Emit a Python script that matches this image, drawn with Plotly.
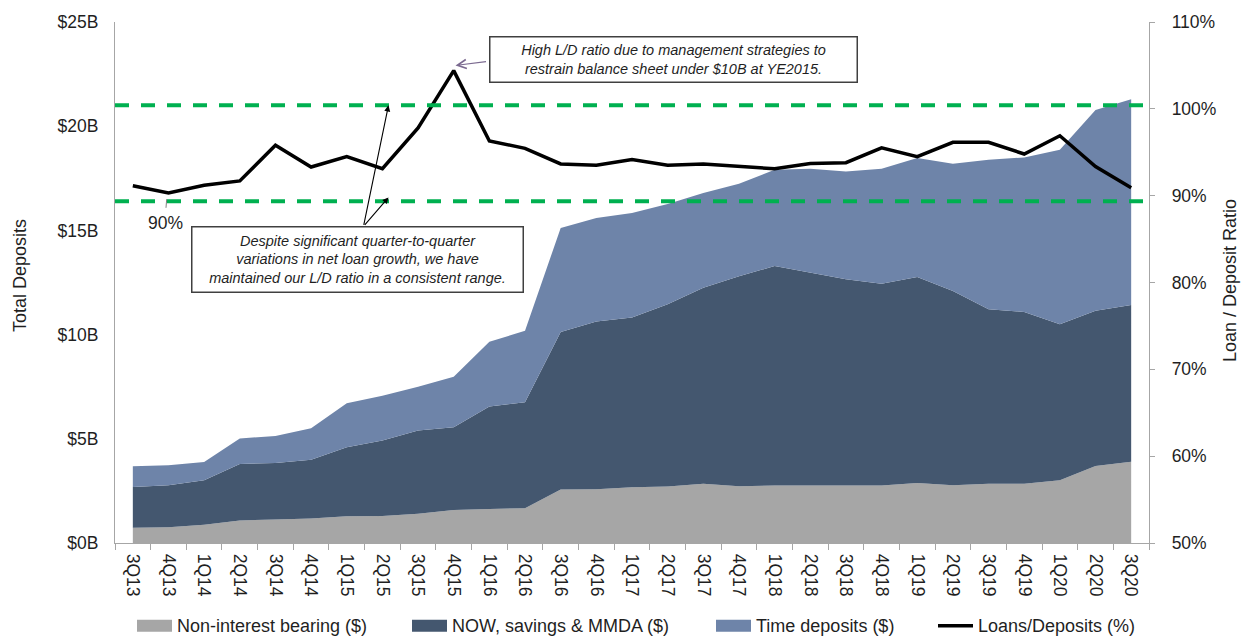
import plotly.graph_objects as go

# Quarterly deposit mix ($B) and loan-to-deposit ratio (%)
quarters = ["3Q13", "4Q13", "1Q14", "2Q14", "3Q14", "4Q14", "1Q15", "2Q15", "3Q15", "4Q15",
            "1Q16", "2Q16", "3Q16", "4Q16", "1Q17", "2Q17", "3Q17", "4Q17", "1Q18", "2Q18",
            "3Q18", "4Q18", "1Q19", "2Q19", "3Q19", "4Q19", "1Q20", "2Q20", "3Q20"]

non_interest = [0.73, 0.75, 0.87, 1.08, 1.13, 1.18, 1.28, 1.29, 1.40, 1.58,
                1.63, 1.67, 2.57, 2.58, 2.68, 2.71, 2.84, 2.72, 2.76, 2.76,
                2.76, 2.76, 2.88, 2.77, 2.84, 2.84, 3.01, 3.70, 3.90]

now_savings_mmda = [1.96, 2.02, 2.14, 2.71, 2.71, 2.82, 3.31, 3.63, 4.00, 3.98,
                    4.92, 5.08, 7.56, 8.05, 8.14, 8.75, 9.41, 10.08, 10.53, 10.21,
                    9.89, 9.68, 9.88, 9.32, 8.38, 8.25, 7.49, 7.44, 7.52]

time_deposits = [0.99, 0.96, 0.88, 1.23, 1.29, 1.51, 2.12, 2.15, 2.10, 2.42,
                 3.11, 3.43, 4.99, 4.97, 5.02, 4.81, 4.55, 4.44, 4.62, 4.99,
                 5.18, 5.52, 5.71, 6.11, 7.17, 7.41, 8.37, 9.64, 9.87]

loans_to_deposits = [91.15, 90.3, 91.2, 91.7, 95.8, 93.3, 94.5, 93.1, 97.8, 104.4,
                     96.3, 95.45, 93.65, 93.5, 94.15, 93.5, 93.65, 93.35, 93.1, 93.7,
                     93.8, 95.5, 94.5, 96.15, 96.15, 94.8, 96.9, 93.35, 90.9]

# Target L/D band drawn as dashed guides
band_upper = 100.4
band_lower = 89.35

left_ticks = [0, 5, 10, 15, 20, 25]
left_tick_text = ["$0B", "$5B", "$10B", "$15B", "$20B", "$25B"]

series_names = ["Non-interest bearing ($)", "NOW, savings & MMDA ($)",
                "Time deposits ($)", "Loans/Deposits (%)"]

FONT = "Liberation Sans, Arial, sans-serif"
TXT = "#1f1f1f"
AXIS = "#a6a6a6"
C_NONINT = "#a6a6a6"
C_NOW = "#44576f"
C_TIME = "#6e84a9"
C_GREEN = "#00b050"

W, H = 1244, 640
ML, MR, MT, MB = 115, 95, 20, 97
PW, PH = W - ML - MR, H - MT - MB


def px_x(p):
    return (p - ML) / PW


def px_y(p):
    return (H - MB - p) / PH


fig = go.Figure()

for vals, name, col in [(non_interest, series_names[0], C_NONINT),
                        (now_savings_mmda, series_names[1], C_NOW),
                        (time_deposits, series_names[2], C_TIME)]:
    fig.add_trace(go.Scatter(x=quarters, y=vals, name=name, mode="lines",
                             stackgroup="deposits", line=dict(width=0, color=col),
                             fillcolor=col, showlegend=False, hoverinfo="skip"))

fig.add_trace(go.Scatter(x=quarters, y=loans_to_deposits, name=series_names[3],
                         mode="lines", yaxis="y2",
                         line=dict(color="black", width=3.5),
                         showlegend=False))

shapes = []
for lvl in (band_upper, band_lower):
    shapes.append(dict(type="line", xref="paper", yref="y2", x0=0, x1=1, y0=lvl, y1=lvl,
                       line=dict(color=C_GREEN, width=4, dash="14px,12px"), layer="above"))

# short leader under the lower band label
shapes.append(dict(type="line", xref="x", yref="y2", x0=0.95, x1=0.93, y0=89.6, y1=88.6,
                   line=dict(color="#7f7f7f", width=1)))

annotations = []

# axis titles
annotations.append(dict(text="Total Deposits", xref="paper", yref="paper",
                        x=px_x(20), y=px_y(275), textangle=-90, showarrow=False,
                        xanchor="center", yanchor="middle",
                        font=dict(family=FONT, size=18, color=TXT)))
annotations.append(dict(text="Loan / Deposit Ratio", xref="paper", yref="paper",
                        x=px_x(1230), y=px_y(280), textangle=-90, showarrow=False,
                        xanchor="center", yanchor="middle",
                        font=dict(family=FONT, size=18, color=TXT)))

# band label
annotations.append(dict(text="90%", xref="x", yref="y2", x=0.92, y=86.9, showarrow=False,
                        font=dict(family=FONT, size=17.5, color=TXT)))

# callout: YE2015 peak
annotations.append(dict(text="<i>High L/D ratio due to management strategies to<br>"
                             "restrain balance sheet under $10B at YE2015.</i>",
                        xref="paper", yref="paper", x=px_x(673), y=px_y(58),
                        xanchor="center", yanchor="middle",
                        showarrow=False, width=364, height=42, align="center",
                        bordercolor="#404040", borderwidth=1.5, borderpad=1, bgcolor="white",
                        font=dict(family=FONT, size=14.5, color=TXT)))
annotations.append(dict(text="", xref="x", yref="y2", x=9.05, y=105.0, ax=32, ay=-4,
                        axref="pixel", ayref="pixel", showarrow=True, arrowhead=5,
                        arrowsize=1.6, arrowwidth=1.1, arrowcolor="#7b6a90"))

# callout: consistent range
annotations.append(dict(text="<i>Despite significant quarter-to-quarter<br>"
                             "variations in net loan growth, we have<br>"
                             "maintained our L/D ratio in a consistent range.</i>",
                        xref="paper", yref="paper", x=px_x(357), y=px_y(258.5),
                        xanchor="center", yanchor="middle",
                        showarrow=False, width=328, height=62, align="center",
                        bordercolor="#404040", borderwidth=1.5, borderpad=1, bgcolor="white",
                        font=dict(family=FONT, size=14.5, color=TXT)))
for head_y, dy in ((band_upper, 121), (89.8, 29)):
    annotations.append(dict(text="", xref="x", yref="y2", x=7.17, y=head_y, ax=-25, ay=dy,
                            axref="pixel", ayref="pixel", showarrow=True, arrowhead=2,
                            arrowsize=1.1, arrowwidth=1.1, arrowcolor="black"))

# legend row
leg_y = px_y(626)
legend_items = [(137, series_names[0], C_NONINT, "box"),
                (412, series_names[1], C_NOW, "box"),
                (716, series_names[2], C_TIME, "box"),
                (938, series_names[3], "black", "line")]
for x0, label, col, kind in legend_items:
    if kind == "box":
        shapes.append(dict(type="rect", xref="paper", yref="paper",
                           x0=px_x(x0), x1=px_x(x0 + 35), y0=px_y(632), y1=px_y(620),
                           fillcolor=col, line=dict(width=0)))
    else:
        shapes.append(dict(type="line", xref="paper", yref="paper",
                           x0=px_x(x0), x1=px_x(x0 + 35), y0=leg_y, y1=leg_y,
                           line=dict(color=col, width=3.5)))
    annotations.append(dict(text=label, xref="paper", yref="paper", x=px_x(x0 + 38), y=leg_y,
                            xanchor="left", yanchor="middle", showarrow=False,
                            font=dict(family=FONT, size=18, color=TXT)))

fig.update_layout(
    width=W, height=H,
    margin=dict(l=ML, r=MR, t=MT, b=MB),
    paper_bgcolor="white", plot_bgcolor="white",
    showlegend=False,
    font=dict(family=FONT, size=17.5, color=TXT),
    xaxis=dict(type="category", range=[-0.5, len(quarters) - 0.5],
               showline=True, linecolor=AXIS, linewidth=1.3,
               ticks="outside", tickson="boundaries", ticklen=6, tickcolor=AXIS, tickwidth=1.3,
               tickangle=90, showgrid=False, zeroline=False, ticklabelstandoff=6,
               tickfont=dict(family=FONT, size=17.5, color=TXT)),
    yaxis=dict(range=[0, 25], tickvals=left_ticks, ticktext=left_tick_text,
               showline=True, linecolor=AXIS, linewidth=1.3, ticks="",
               showgrid=False, zeroline=False, ticklabelstandoff=12,
               tickfont=dict(family=FONT, size=17.5, color=TXT)),
    yaxis2=dict(range=[50, 110], dtick=10, ticksuffix="%", overlaying="y", side="right",
                showline=True, linecolor=AXIS, linewidth=1.3,
                ticks="outside", ticklen=5, tickcolor=AXIS, tickwidth=1.3,
                showgrid=False, zeroline=False, ticklabelstandoff=13,
                tickfont=dict(family=FONT, size=17.5, color=TXT)),
    shapes=shapes,
    annotations=annotations,
)

fig.write_html("out.html")
